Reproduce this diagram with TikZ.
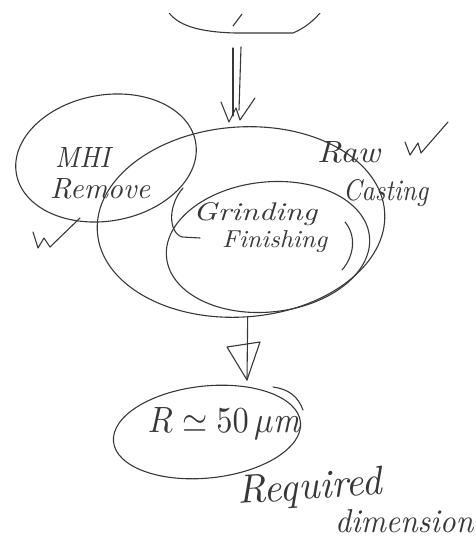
\documentclass[tikz,border=0pt]{standalone}
\usepackage{graphicx}
\usetikzlibrary{shapes.geometric}
\definecolor{inkc}{HTML}{383838}
\newcommand{\hwtext}[3]{\resizebox{#1pt}{#2pt}{#3}}
\begin{document}
\begin{tikzpicture}[x=1pt,y=-1pt,
  ink/.style={draw=inkc, line width=1.1pt, line cap=round, line join=round},
  blob/.style={ellipse, ink, inner sep=0pt},
  hand/.style={text=inkc, font=\itshape, inner sep=0pt, anchor=base west}]
\useasboundingbox (0,0) rectangle (475,540);
% top partial shape
\begin{scope}
\clip (0,14) rectangle (475,540);
\draw[ink] (166,8) .. controls (175,26) and (200,32) .. (235,33) -- (293,33) .. controls (305,28) and (315,20) .. (324,8);
\end{scope}
\coordinate (src) at (237,33);
\draw[ink] (233,26) -- (242,14);
% ellipses
\node[blob, minimum width=288pt, minimum height=190pt, rotate=4] (raw) at (241,222) {};
\node[blob, minimum width=182pt, minimum height=126pt, rotate=10] (mhi) at (106,158) {};
\node[blob, minimum width=204pt, minimum height=130pt, rotate=6] (grind) at (268,247) {};
\node[blob, minimum width=188pt, minimum height=92pt, rotate=6] (req) at (207,432) {};
% double arrow into raw casting
\coordinate (d1) at (233,116);
\coordinate (d2) at (239,110);
\draw[ink] ([xshift=-4pt,yshift=-15pt]src) -- (d1);
\draw[ink] ([xshift=4pt,yshift=-14pt]src) -- (d2);
\draw[ink] (221,102) -- (229,122) -- (236,108) -- (240,120) -- (255,98);
% arrow to required dimension
\coordinate (tip) at (247,380);
\draw[ink] (raw.south) -- (tip);
\draw[ink] (227,347) -- (260,342) -- (tip) -- cycle;
% check marks
\draw[ink] (405,142) -- (410,155) -- (418,143) -- (421,153) -- (448,122);
\draw[ink] (33,232) -- (38,248) -- (44,238) -- (50,247) -- (80,218);
% brackets
\draw[ink] (183,188) .. controls (168,205) and (168,232) .. (182,237) -- (200,238);
\draw[ink] (345,222) .. controls (356,235) and (355,255) .. (342,270);
\draw[ink] (273,387) .. controls (288,389) and (298,396) .. (303,410);
% texts
\node[hand] (t1) at (55,167) {\hwtext{55}{20}{MHI}};
\node[hand] (t2) at (50,198) {\hwtext{100}{20}{Remove}};
\node[hand] (t3) at (317,162) {\hwtext{63}{21}{Raw}};
\node[hand] (t4) at (343,200) {\hwtext{85}{21}{Casting}};
\node[hand] (t5) at (193,220) {\hwtext{124}{18}{Grinding}};
\node[hand] (t6) at (222,247) {\hwtext{105}{17}{Finishing}};
\node[hand] (t7) at (148,432) {\hwtext{152}{25}{$R\simeq 50\,\mu$m}};
\node[hand, rotate=4] (t8) at (238,504) {\hwtext{145}{28}{Required}};
\node[hand] (t9) at (335,532) {\hwtext{138}{23}{dimension}};
\end{tikzpicture}
\end{document}
